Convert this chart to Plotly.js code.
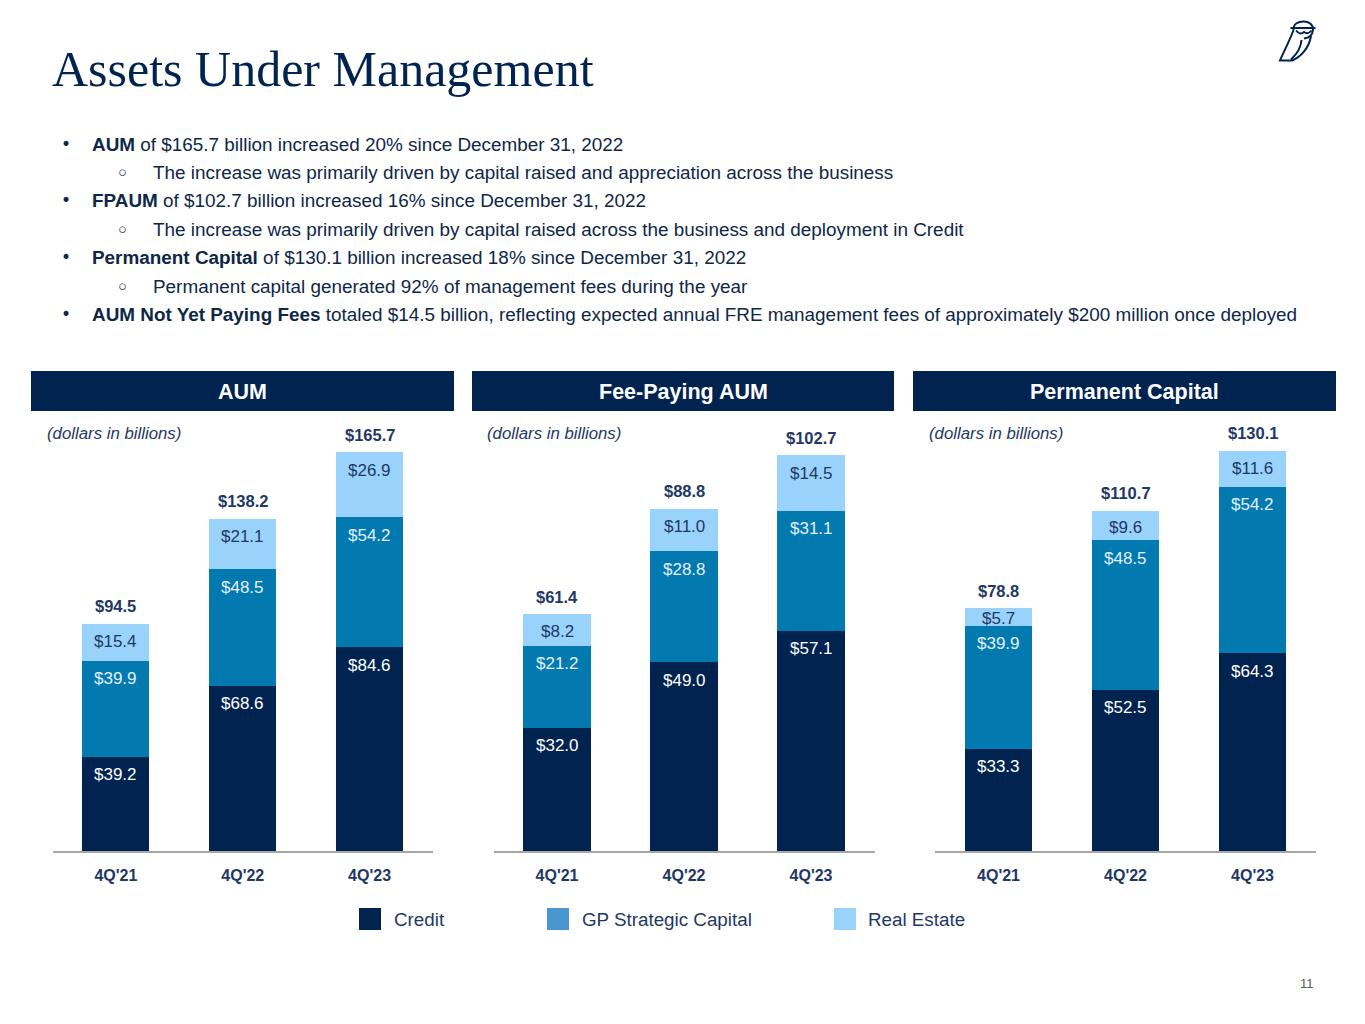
<!DOCTYPE html>
<html>
<head>
<meta charset="utf-8">
<script src="https://cdn.plot.ly/plotly-3.0.1.min.js"></script>
<style>
html,body{margin:0;padding:0;background:#fff;}
#chart{width:1365px;height:1024px;}
</style>
</head>
<body>
<div id="chart"></div>
<script>
// ---------------- DATA ----------------
const categories = ["4Q'21", "4Q'22", "4Q'23"];
const seriesNames = ["Credit", "GP Strategic Capital", "Real Estate"];
const panelTitles = ["AUM", "Fee-Paying AUM", "Permanent Capital"];

const aumCredit = [39.2, 68.6, 84.6];
const aumGP     = [39.9, 48.5, 54.2];
const aumRE     = [15.4, 21.1, 26.9];
const aumTotal  = [94.5, 138.2, 165.7];

const fpCredit = [32.0, 49.0, 57.1];
const fpGP     = [21.2, 28.8, 31.1];
const fpRE     = [8.2, 11.0, 14.5];
const fpTotal  = [61.4, 88.8, 102.7];

const pcCredit = [33.3, 52.5, 64.3];
const pcGP     = [39.9, 48.5, 54.2];
const pcRE     = [5.7, 9.6, 11.6];
const pcTotal  = [78.8, 110.7, 130.1];

// ---------------- STYLE / LAYOUT CONFIG ----------------
const W = 1365, H = 1024;
const NAVY = '#002350';
const TXT = '#1F3864';
const barColors = ['#002350', '#0279AF', '#99D3FB'];
const legendSwatch = ['#002350', '#4A97CF', '#99D3FB'];
const labelColors = ['#FFFFFF', '#E3F1FF', '#1F3864'];
const FONT = 'Arial, "Liberation Sans", sans-serif';

const panels = [
  {credit: aumCredit, gp: aumGP, re: aumRE, total: aumTotal, x0: 52.5, x1: 433, yMax: 180.0, hx0: 31, hx1: 454, noteX: 46},
  {credit: fpCredit, gp: fpGP, re: fpRE, total: fpTotal, x0: 493.5, x1: 874.5, yMax: 112.3, hx0: 472, hx1: 894, noteX: 486},
  {credit: pcCredit, gp: pcGP, re: pcRE, total: pcTotal, x0: 935, x1: 1316, yMax: 140.8, hx0: 913, hx1: 1336, noteX: 928}
];
const plotTopPx = 418, plotBotPx = 851;

const px = x => x / W;
const py = y => 1 - y / H;
const P = (x, y) => px(x) + ',' + py(y);

const traces = [];
const annotations = [];
const shapes = [];
const layout = {
  width: W, height: H,
  margin: {l: 0, r: 0, t: 0, b: 0},
  paper_bgcolor: '#fff', plot_bgcolor: 'rgba(0,0,0,0)',
  barmode: 'stack', bargap: 0.472,
  showlegend: false,
  font: {family: FONT},
  hovermode: false
};

panels.forEach((p, i) => {
  const n = i === 0 ? '' : String(i + 1);
  const xa = 'x' + n, ya = 'y' + n;
  const vals = [p.credit, p.gp, p.re];
  vals.forEach((v, s) => {
    traces.push({
      type: 'bar', x: categories, y: v, name: seriesNames[s],
      xaxis: xa, yaxis: ya,
      marker: {color: barColors[s], line: {width: 0}},
      hoverinfo: 'skip'
    });
  });
  layout['xaxis' + n] = {
    domain: [px(p.x0), px(p.x1)], anchor: ya, type: 'category',
    range: [-0.5, 2.5], showline: true, linecolor: '#A6A6A6', linewidth: 1.5,
    showgrid: false, zeroline: false,
    ticks: 'outside', ticklen: 9, tickcolor: 'rgba(0,0,0,0)',
    tickfont: {family: FONT, size: 16, color: TXT, weight: 'bold'},
    fixedrange: true
  };
  layout['yaxis' + n] = {
    domain: [py(plotBotPx), py(plotTopPx)], anchor: xa,
    range: [0, p.yMax], visible: false, showgrid: false, zeroline: false,
    fixedrange: true
  };
  const pxPerUnit = (plotBotPx - plotTopPx) / p.yMax;
  categories.forEach((c, k) => {
    let base = 0;
    vals.forEach((v, s) => {
      const top = base + v[k];
      const h = v[k] * pxPerUnit;
      const off = Math.min(18, h / 2 + 1.5);
      annotations.push({
        xref: xa, yref: ya, x: c, y: top, yanchor: 'middle', xanchor: 'center',
        yshift: -off, showarrow: false,
        text: '$' + v[k].toFixed(1),
        font: {family: FONT, size: 17, color: labelColors[s]}
      });
      base = top;
    });
    annotations.push({
      xref: xa, yref: ya, x: c, y: base, yanchor: 'middle', xanchor: 'center',
      yshift: 17.5, showarrow: false,
      text: '<b>$' + p.total[k].toFixed(1) + '</b>',
      font: {family: FONT, size: 16.5, color: TXT}
    });
  });
  shapes.push({type: 'rect', xref: 'paper', yref: 'paper',
    x0: px(p.hx0), x1: px(p.hx1), y0: py(411), y1: py(371),
    fillcolor: NAVY, line: {width: 0}, layer: 'below'});
  annotations.push({xref: 'paper', yref: 'paper', x: px((p.hx0 + p.hx1) / 2), y: py(391.5),
    xanchor: 'center', yanchor: 'middle', showarrow: false,
    text: '<b>' + panelTitles[i] + '</b>', font: {family: FONT, size: 21.5, color: '#FFFFFF'}});
  annotations.push({xref: 'paper', yref: 'paper', x: px(p.noteX - 1), y: py(433),
    xanchor: 'left', yanchor: 'middle', showarrow: false,
    text: '<i>(dollars in billions)</i>', font: {family: FONT, size: 16.8, color: TXT}});
});

// Title
annotations.push({xref: 'paper', yref: 'paper', x: px(50), y: py(69),
  xanchor: 'left', yanchor: 'middle', showarrow: false,
  text: 'Assets Under Management',
  font: {family: '"Liberation Serif", "Times New Roman", serif', size: 50, color: NAVY}});

// Bullets
const bulletLines = [
  {lvl: 0, text: '<b>AUM</b> of $165.7 billion increased 20% since December 31, 2022'},
  {lvl: 1, text: 'The increase was primarily driven by capital raised and appreciation across the business'},
  {lvl: 0, text: '<b>FPAUM</b> of $102.7 billion increased 16% since December 31, 2022'},
  {lvl: 1, text: 'The increase was primarily driven by capital raised across the business and deployment in Credit'},
  {lvl: 0, text: '<b>Permanent Capital</b> of $130.1 billion increased 18% since December 31, 2022'},
  {lvl: 1, text: 'Permanent capital generated 92% of management fees during the year'},
  {lvl: 0, text: '<b>AUM Not Yet Paying Fees</b> totaled $14.5 billion, reflecting expected annual FRE management fees of approximately $200 million once deployed'}
];
const bulletY = [144, 172, 200, 229, 257, 286, 314];
bulletLines.forEach((b, k) => {
  annotations.push({xref: 'paper', yref: 'paper', x: px(b.lvl === 0 ? 59 : 114), y: py(bulletY[k] + (b.lvl === 0 ? 0 : 1)),
    xanchor: 'left', yanchor: 'middle', showarrow: false,
    text: b.lvl === 0 ? '•' : '◦',
    font: {family: '"DejaVu Sans", Arial, sans-serif', size: b.lvl === 0 ? 17 : 22, color: '#0F2747'}});
  annotations.push({xref: 'paper', yref: 'paper', x: px(b.lvl === 0 ? 90 : 150.5), y: py(bulletY[k]),
    xanchor: 'left', yanchor: 'middle', showarrow: false,
    text: b.text, font: {family: FONT, size: 18.9, color: '#0F2747'}});
});

// Legend (drawn)
const legendX = [359, 547, 834];
const legendTextX = [392, 580, 866];
seriesNames.forEach((nm, s) => {
  shapes.push({type: 'rect', xref: 'paper', yref: 'paper',
    x0: px(legendX[s]), x1: px(legendX[s] + 22), y0: py(930), y1: py(908),
    fillcolor: legendSwatch[s], line: {width: 0}});
  annotations.push({xref: 'paper', yref: 'paper', x: px(legendTextX[s]), y: py(919),
    xanchor: 'left', yanchor: 'middle', showarrow: false,
    text: nm, font: {family: FONT, size: 18.8, color: TXT}});
});

// Page number
annotations.push({xref: 'paper', yref: 'paper', x: px(1307), y: py(983),
  xanchor: 'center', yanchor: 'middle', showarrow: false,
  text: '11', font: {family: FONT, size: 13, color: '#595959'}});

// Owl logo (decorative)
const owlPaths = [
  'M' + P(1293.5, 30) + ' C' + P(1293, 24) + ' ' + P(1298, 21.5) + ' ' + P(1303.5, 21.5) + ' C' + P(1309, 21.5) + ' ' + P(1313.5, 24.5) + ' ' + P(1313, 30) +
    ' C' + P(1312.5, 35) + ' ' + P(1309, 38) + ' ' + P(1304, 38.5),
  'M' + P(1290.5, 28) + ' L' + P(1315.5, 28),
  'M' + P(1296, 30.5) + ' Q' + P(1300, 35.5) + ' ' + P(1304, 32) + ' Q' + P(1308, 35) + ' ' + P(1311.5, 30.5),
  'M' + P(1293.5, 30) + ' C' + P(1290, 40) + ' ' + P(1284, 51) + ' ' + P(1280, 60.5) + ' L' + P(1292, 60.5) + ' C' + P(1301, 57) + ' ' + P(1309, 48) + ' ' + P(1311, 36),
  'M' + P(1301.5, 40) + ' C' + P(1301, 47) + ' ' + P(1297, 54) + ' ' + P(1291, 59.5)
];
owlPaths.forEach(d => shapes.push({type: 'path', xref: 'paper', yref: 'paper', path: d,
  line: {color: NAVY, width: 2}, fillcolor: 'rgba(0,0,0,0)'}));

layout.annotations = annotations;
layout.shapes = shapes;

Plotly.newPlot('chart', traces, layout, {staticPlot: true, displayModeBar: false});
</script>
</body>
</html>
